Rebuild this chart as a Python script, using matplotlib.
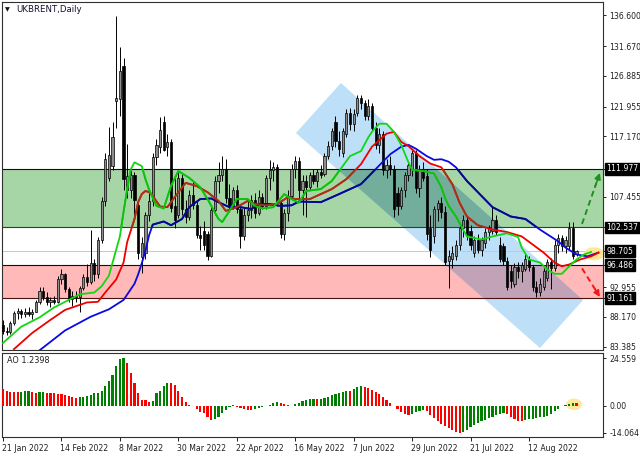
import matplotlib
matplotlib.use('Agg')
import matplotlib.pyplot as plt
import numpy as np
from matplotlib.patches import Rectangle, Polygon, Ellipse
import matplotlib.transforms as mtransforms

plt.rcParams['font.family'] = ['DejaVu Sans']

# ---------------- data ----------------
dates = ["21 Jan 2022", "14 Feb 2022", "8 Mar 2022", "30 Mar 2022", "22 Apr 2022",
         "16 May 2022", "7 Jun 2022", "29 Jun 2022", "21 Jul 2022", "12 Aug 2022"]
date_bars = [0, 16, 32, 48, 64, 80, 96, 112, 128, 144]

opens = [86.9, 85.9, 85.7, 87.2, 88.8, 89.2, 88.6, 89.0, 88.7, 89.0,
         90.6, 92.4, 91.4, 90.6, 90.9, 90.5, 94.3, 95.0, 92.6, 91.0,
         91.6, 91.3, 92.8, 94.6, 93.8, 96.8, 95.0, 100.5, 106.8, 110.5,
         112.4, 122.9, 123.2, 128.4, 108.5, 108.5, 111.0, 106.2, 97.8, 98.5,
         104.5, 106.8, 113.8, 115.5, 119.5, 115.5, 116.3, 106.0, 104.5, 110.5,
         105.5, 104.2, 107.8, 106.2, 101.3, 102.0, 101.5, 98.0, 105.3, 110.0,
         111.0, 112.0, 107.2, 106.0, 108.5, 105.5, 101.2, 104.5, 105.3, 107.0,
         104.8, 107.5, 106.0, 110.5, 111.8, 112.3, 106.5, 101.5, 104.8, 107.6,
         112.0, 113.2, 108.5, 110.0, 109.0, 111.0, 110.0, 111.5, 111.2, 114.0,
         115.6, 119.5, 116.5, 114.5, 117.6, 121.0, 119.2, 121.0, 123.3, 122.5,
         120.5, 122.0, 118.5, 115.8, 117.5, 111.8, 112.5, 112.0, 108.0, 106.0,
         108.5, 111.0, 112.0, 114.5, 108.8, 111.8, 110.8, 102.5, 101.1, 105.5,
         106.5, 105.0, 97.2, 97.5, 98.0, 99.8, 102.5, 103.8, 102.0, 98.5,
         100.5, 99.0, 100.0, 101.8, 102.0, 103.8, 99.8, 99.5, 97.2, 95.5,
         93.5, 96.2, 95.5, 95.8, 97.5, 96.2, 93.0, 92.2, 93.0, 94.5,
         97.0, 96.0, 99.8, 100.8, 99.5, 99.5, 102.5, 98.2]
highs = [87.6, 86.6, 87.5, 89.2, 89.6, 89.5, 89.6, 89.8, 89.4, 90.9,
         93.0, 92.9, 92.2, 91.3, 91.6, 94.8, 95.8, 95.3, 93.0, 92.3,
         92.3, 93.2, 95.0, 96.6, 102.2, 97.5, 101.0, 107.5, 114.5, 118.7,
         119.5, 136.5, 131.6, 129.8, 116.0, 111.8, 111.5, 107.0, 101.0, 105.0,
         108.0, 114.5, 116.8, 120.3, 120.5, 117.5, 116.8, 110.8, 111.5, 111.2,
         107.0, 108.5, 110.0, 106.8, 102.8, 103.5, 102.0, 105.8, 110.8, 113.0,
         114.0, 113.5, 109.5, 109.0, 109.3, 106.0, 105.8, 107.0, 107.8, 108.0,
         108.5, 108.0, 111.0, 113.4, 113.0, 112.8, 107.0, 105.5, 108.5, 112.8,
         114.0, 113.8, 111.0, 111.0, 111.5, 112.0, 112.0, 112.5, 114.5, 116.5,
         118.5, 120.5, 118.0, 118.5, 121.5, 121.8, 121.5, 123.8, 123.8, 123.0,
         123.2, 122.5, 119.5, 118.5, 118.0, 113.5, 114.0, 112.5, 109.0, 109.0,
         111.5, 113.0, 115.0, 115.0, 112.5, 113.0, 112.0, 104.5, 106.0, 107.0,
         107.5, 106.0, 99.0, 99.5, 100.5, 103.0, 104.5, 104.2, 103.0, 101.2,
         101.5, 101.0, 102.5, 103.0, 106.0, 104.5, 101.0, 100.0, 97.8, 96.5,
         96.8, 97.0, 97.0, 98.5, 98.0, 96.5, 94.0, 94.5, 96.0, 97.5,
         97.6, 100.5, 101.5, 101.3, 101.2, 103.4, 103.4, 99.0]
lows = [85.4, 85.2, 85.4, 86.8, 87.9, 88.0, 88.2, 88.3, 87.9, 88.9,
        90.3, 90.9, 90.1, 89.8, 90.2, 90.4, 93.5, 92.1, 90.6, 90.0,
        90.6, 89.0, 92.5, 93.2, 93.5, 93.9, 94.5, 100.0, 106.0, 110.0,
        111.8, 118.5, 120.5, 108.5, 107.2, 107.3, 104.0, 97.5, 95.3, 97.5,
        103.5, 106.0, 112.5, 114.5, 114.8, 114.0, 105.0, 102.5, 104.0, 104.5,
        103.2, 103.8, 105.5, 100.8, 98.9, 99.0, 97.3, 97.8, 104.5, 108.0,
        110.0, 106.5, 105.0, 105.5, 104.8, 99.3, 100.5, 103.5, 104.0, 104.0,
        104.5, 105.5, 105.5, 108.5, 110.0, 106.0, 100.8, 100.5, 103.5, 107.0,
        110.5, 107.0, 104.5, 104.3, 108.5, 109.5, 109.0, 110.5, 110.8, 113.5,
        115.0, 115.5, 114.0, 113.8, 117.0, 118.2, 118.0, 120.5, 121.5, 119.8,
        119.8, 118.0, 115.2, 114.5, 111.0, 110.5, 111.0, 104.3, 104.5, 105.5,
        107.5, 110.0, 110.8, 108.0, 107.5, 110.0, 100.5, 97.8, 100.0, 103.5,
        104.0, 96.5, 92.8, 96.0, 97.3, 99.0, 101.0, 100.5, 99.0, 97.8,
        98.5, 98.0, 99.3, 100.5, 101.5, 101.3, 97.0, 96.5, 92.5, 92.8,
        93.0, 94.5, 93.8, 95.5, 95.5, 92.3, 91.3, 91.5, 92.5, 94.0,
        92.6, 95.5, 98.5, 98.8, 98.5, 99.0, 97.5, 98.0]
closes = [85.9, 85.7, 87.2, 88.8, 89.2, 88.6, 89.0, 88.7, 89.0, 90.6,
          92.4, 91.4, 90.6, 90.9, 90.5, 94.3, 95.0, 92.6, 91.0, 91.6,
          91.3, 92.8, 94.6, 93.8, 96.8, 95.0, 100.5, 106.8, 113.5, 114.2,
          117.1, 123.3, 127.7, 110.3, 110.8, 111.0, 107.0, 98.5, 100.0, 104.5,
          106.8, 113.8, 115.8, 118.2, 115.0, 116.3, 105.7, 103.8, 110.5, 105.5,
          104.2, 107.8, 106.2, 101.3, 100.8, 99.8, 97.9, 105.3, 110.0, 111.0,
          112.0, 107.2, 106.0, 108.5, 105.5, 101.2, 104.5, 105.3, 107.0, 104.8,
          107.5, 106.0, 110.5, 111.8, 112.3, 106.5, 101.5, 104.8, 107.6, 112.0,
          113.2, 108.5, 110.0, 109.0, 111.0, 110.0, 111.5, 111.0, 114.0, 115.6,
          118.0, 116.5, 115.2, 118.0, 121.0, 119.2, 120.8, 123.3, 122.5, 120.5,
          122.0, 118.5, 115.8, 117.5, 111.8, 112.5, 112.0, 105.5, 106.0, 108.5,
          111.0, 112.5, 114.5, 108.8, 111.8, 110.5, 101.5, 99.0, 105.5, 106.5,
          105.0, 97.0, 98.0, 98.5, 99.8, 102.5, 103.8, 101.3, 99.8, 100.5,
          99.0, 100.5, 101.8, 102.5, 103.8, 101.8, 97.5, 97.2, 93.0, 94.0,
          96.2, 95.5, 96.5, 97.5, 96.2, 93.0, 92.2, 93.5, 95.5, 97.0,
          96.0, 99.8, 100.8, 99.5, 100.6, 102.5, 98.0, 98.705]

# Alligator lines (bar index, value)
jaw_x = [10, 17, 24, 29, 33, 36, 37, 38, 39, 40, 41, 44, 46, 49, 51, 54, 57, 59, 62, 65,
         68, 70, 73, 76, 79, 81, 87, 92, 98, 102, 106, 109, 111, 113, 116, 118, 120, 122,
         124, 127, 131, 134, 139, 143, 147, 152, 154, 157, 160, 163]
jaw_y = [82.8, 86.0, 88.2, 89.4, 90.9, 93.5, 95.0, 96.8, 98.8, 101.3, 103.0, 103.5, 102.9,
         103.9, 105.8, 107.1, 107.2, 106.6, 105.8, 105.8, 105.5, 106.3, 106.3, 106.0, 106.1,
         106.7, 106.6, 107.9, 109.5, 111.9, 114.3, 115.5, 115.8, 115.2, 114.0, 113.4, 113.5,
         113.1, 112.2, 110.0, 107.6, 105.8, 104.3, 103.9, 102.2, 100.3, 99.3, 98.2, 97.9, 98.5]
teeth_x = [3, 8, 13, 17, 23, 26, 28, 31, 33, 34, 36, 37, 38, 39, 40, 41, 43, 45, 47, 50,
           53, 56, 59, 61, 64, 67, 69, 72, 75, 78, 80, 84, 90, 94, 98, 101, 105, 107, 109,
           111, 114, 117, 120, 123, 125, 127, 130, 134, 138, 142, 145, 148, 151, 153, 155,
           158, 161, 163]
teeth_y = [83.0, 85.6, 87.7, 89.3, 90.5, 90.6, 92.1, 94.2, 96.9, 100.2, 103.9, 106.6, 107.9,
           108.4, 108.2, 107.6, 105.9, 105.8, 107.4, 109.7, 109.2, 108.2, 106.8, 105.2, 105.8,
           106.8, 106.3, 106.1, 106.3, 107.4, 107.1, 107.1, 108.7, 110.3, 112.7, 115.5, 117.6,
           117.9, 116.3, 115.6, 114.0, 112.8, 112.2, 109.5, 106.5, 104.3, 102.9, 102.2, 101.8,
           101.1, 99.8, 98.5, 96.9, 96.3, 96.6, 97.4, 97.9, 98.5]
lips_x = [0, 5, 10, 14, 17, 21, 25, 27, 29, 30, 32, 33, 34, 35, 36, 38, 39, 40, 42, 44,
          46, 48, 51, 54, 56, 59, 60, 62, 64, 67, 69, 71, 74, 77, 79, 81, 83, 87, 90, 93,
          95, 98, 100, 101, 103, 105, 107, 109, 111, 112, 115, 118, 120, 121, 122, 124, 127,
          131, 134, 138, 141, 142, 144, 147, 149, 151, 153, 155, 157, 159, 161]
lips_y = [84.0, 86.6, 88.1, 89.7, 90.6, 91.8, 92.1, 93.1, 94.8, 96.9, 101.1, 105.0, 108.7,
          111.9, 113.0, 112.4, 110.3, 108.6, 106.0, 105.6, 109.2, 111.6, 110.5, 109.0, 107.1,
          103.9, 103.4, 105.2, 107.1, 107.1, 106.0, 105.6, 105.8, 107.9, 107.1, 106.5, 108.4,
          108.7, 110.0, 112.4, 114.0, 114.8, 117.0, 117.9, 119.2, 119.2, 117.9, 115.8, 113.0,
          111.8, 111.6, 111.2, 109.0, 107.3, 106.0, 104.3, 101.1, 100.6, 101.1, 101.6, 101.0,
          99.3, 97.4, 96.9, 95.8, 95.1, 95.1, 96.3, 97.4, 98.2, 98.6]

# Awesome Oscillator values per bar
ao = [8.4, 7.7, 7.2, 7.0, 6.9, 7.2, 7.4, 7.5, 6.9, 6.7,
      6.9, 7.0, 6.7, 6.6, 6.4, 6.2, 5.9, 5.5, 5.0, 4.6,
      4.1, 4.2, 4.5, 4.9, 5.6, 6.3, 6.7, 7.7, 10.1, 12.7,
      15.8, 20.5, 24.0, 24.559, 22.2, 16.7, 11.5, 6.3, 2.9, 2.6,
      2.0, 2.3, 6.3, 7.7, 10.1, 11.9, 11.5, 10.6, 7.7, 4.6,
      1.6, 0.3, -0.3, -2.0, -3.2, -4.1, -5.8, -7.5, -7.2, -5.8,
      -4.1, -2.5, -1.0, 0.2, -0.6, -1.2, -1.8, -2.2, -2.4, -2.0,
      -1.5, -1.0, -0.4, 0.5, 1.1, 1.6, 1.2, 0.7, 0.2, -0.3,
      0.6, 1.5, 2.3, 2.9, 3.2, 3.4, 3.2, 3.4, 3.9, 4.6,
      5.2, 5.8, 6.4, 7.0, 7.6, 7.4, 8.6, 9.4, 10.1, 9.7,
      9.0, 8.2, 7.2, 5.9, 4.4, 2.9, 1.3, -0.3, -1.9, -3.2,
      -4.2, -4.9, -4.2, -3.6, -3.0, -2.5, -3.0, -4.8, -6.5, -8.0,
      -9.5, -10.8, -11.8, -12.8, -13.6, -14.064, -13.5, -12.5, -11.3, -10.2,
      -9.2, -8.3, -7.4, -6.5, -5.8, -5.1, -4.5, -4.0, -4.6, -5.8,
      -6.9, -7.8, -8.2, -7.6, -7.1, -6.8, -6.5, -6.2, -5.9, -5.4,
      -4.4, -3.0, -1.6, -0.5, 0.2, 0.6, 1.4, 1.2398]

# chart levels / drawings (bar index, price)
green_zone = (102.537, 111.977)
red_zone = (91.161, 96.486)
last_price = 98.705
channel_x = [80.2, 92.5, 158.8, 147.0]
channel_y = [117.71, 125.74, 90.89, 83.18]
up_arrow = ((158.5, 103.1), (163.4, 111.3))
down_arrow = ((158.5, 95.98), (163.4, 91.38))

price_ticks = [136.600, 131.670, 126.885, 121.955, 117.170, 107.455, 92.955, 88.170, 83.385]
marked_levels = [111.977, 102.537, 98.705, 96.486, 91.161]
ao_ticks = [24.559, 0.0, -14.064]
ao_tick_labels = ["24.559", "0.00", "-14.064"]

# ---------------- figure ----------------
W, H = 640, 457
fig = plt.figure(figsize=(W / 100, H / 100), dpi=100)
fig.patch.set_facecolor('white')


def frac(x0, y0, x1, y1):
    return [x0 / W, 1 - y1 / H, (x1 - x0) / W, (y1 - y0) / H]


ax = fig.add_axes(frac(2, 2, 603, 350))
ax2 = fig.add_axes(frac(2, 352.5, 603, 437.3))

XMIN, XMAX = -0.27, 164.25
ax.set_xlim(XMIN, XMAX)
ax.set_ylim(82.86, 138.75)
ax2.set_xlim(XMIN, XMAX)
ax2.set_ylim(-16.5, 27.5)

FS = 5.6
for a in (ax, ax2):
    for s in a.spines.values():
        s.set_color('#303030')
        s.set_linewidth(0.8)

# zones
gz = Rectangle((XMIN - 5, green_zone[0]), 200, green_zone[1] - green_zone[0],
               facecolor='#a6d6a6', edgecolor='none', zorder=1)
rz = Rectangle((XMIN - 5, red_zone[0]), 200, red_zone[1] - red_zone[0],
               facecolor='#ffb9b9', edgecolor='none', zorder=1)
ax.add_patch(gz)
ax.add_patch(rz)

# channel with multiply-like overlaps
verts = list(zip(channel_x, channel_y))
ax.add_patch(Polygon(verts, closed=True, facecolor='#bde0f8', edgecolor='none', zorder=2))
pg = Polygon(verts, closed=True, facecolor='#73ae9d', edgecolor='none', zorder=2.1)
ax.add_patch(pg)
pg.set_clip_path(gz)
pr = Polygon(verts, closed=True, facecolor='#c2a2b6', edgecolor='none', zorder=2.1)
ax.add_patch(pr)
pr.set_clip_path(rz)

# level lines
ax.axhline(green_zone[1], color='#101010', lw=0.8, zorder=2.5)
ax.axhline(green_zone[0], color='#1d4a1d', lw=0.8, zorder=2.5)
ax.axhline(red_zone[1], color='#101010', lw=0.8, zorder=2.5)
ax.axhline(red_zone[0], color='#4a0f0f', lw=0.8, zorder=2.5)
ax.axhline(last_price, color='#c8c8c8', lw=0.7, zorder=2.4)

# candles
o = np.array(opens); h = np.array(highs); l = np.array(lows); c = np.array(closes)
idx = np.arange(len(c))
ax.vlines(idx, l, h, color='black', lw=0.7, zorder=3)
bull = c >= o
bottoms = np.minimum(o, c)
heights = np.maximum(np.abs(c - o), 0.15)
ax.bar(idx[bull], heights[bull], bottom=bottoms[bull], width=0.6,
       color='#8e8e8e', edgecolor='black', linewidth=0.5, zorder=3.2)
ax.bar(idx[~bull], heights[~bull], bottom=bottoms[~bull], width=0.6,
       color='black', edgecolor='black', linewidth=0.5, zorder=3.2)

# highlight ellipse
ax.add_patch(Ellipse((161.8, 98.3), 5.6, 2.1, facecolor='#fde68a', edgecolor='none',
                     alpha=0.9, zorder=3.5))

# Alligator
lines = [(jaw_x, jaw_y, '#0a0ae0', '#08088c'),
         (teeth_x, teeth_y, '#f00000', '#a5331a'),
         (lips_x, lips_y, '#10d810', '#0fc00f')]
for xs, ys, col, dcol in lines:
    ax.plot(xs, ys, color=col, lw=1.3, zorder=4, solid_joinstyle='round')
    ln, = ax.plot(xs, ys, color=dcol, lw=1.3, zorder=4.1, solid_joinstyle='round')
    ln.set_clip_path(gz)

# arrows
for (p0, p1), col in ((up_arrow, '#1f8f1f'), (down_arrow, '#f01818')):
    dx, dy = p1[0] - p0[0], p1[1] - p0[1]
    ax.plot([p0[0], p0[0] + dx * 0.8], [p0[1], p0[1] + dy * 0.8], color=col, lw=1.4,
            ls=(0, (3, 2)), zorder=5)
    ax.annotate('', xy=p1, xytext=(p0[0] + dx * 0.72, p0[1] + dy * 0.72),
                arrowprops=dict(arrowstyle='-|>', color=col, lw=1.2, mutation_scale=9,
                                shrinkA=0, shrinkB=0), zorder=5, annotation_clip=False)

# axes ticks main
ax.yaxis.tick_right()
ax.set_yticks(price_ticks + marked_levels)
ax.set_yticklabels(['%.3f' % v for v in price_ticks] + [''] * len(marked_levels))
ax.tick_params(axis='y', direction='out', length=2.5, width=0.7, pad=2, labelsize=FS,
               colors='#202020')
ax.set_xticks([])
trans = mtransforms.blended_transform_factory(ax.transAxes, ax.transData)
for v in marked_levels:
    ax.text(1.006, v, '%.3f' % v, transform=trans, fontsize=FS, color='white',
            va='center', ha='left', zorder=10, clip_on=False,
            bbox=dict(boxstyle='square,pad=0.18', fc='black', ec='black'))

# AO
aov = np.array(ao)
up = np.concatenate([[False], np.diff(aov) > 0])
aidx = np.arange(len(aov))
ax2.bar(aidx[up], aov[up], width=0.6, color='#008000', zorder=3)
ax2.bar(aidx[~up], aov[~up], width=0.6, color='#ff0000', zorder=3)
ax2.add_patch(Ellipse((156.3, 0.6), 4.3, 6.0, facecolor='#fde68a', edgecolor='none',
                      alpha=0.85, zorder=2))
ax2.yaxis.tick_right()
ax2.set_yticks(ao_ticks)
ax2.set_yticklabels(ao_tick_labels)
ax2.tick_params(axis='y', direction='out', length=2.5, width=0.7, pad=2, labelsize=FS,
                colors='#202020')
ax2.set_xticks(date_bars)
ax2.set_xticklabels(dates, ha='left')
ax2.tick_params(axis='x', direction='out', length=3, width=0.7, pad=2, labelsize=FS,
                colors='#202020')
for t in ax2.get_xticklabels():
    t.set_x(t.get_position()[0])
offset = mtransforms.ScaledTranslation(-1 / 100, 0, fig.dpi_scale_trans)
for t in ax2.get_xticklabels():
    t.set_transform(t.get_transform() + offset)
ax2.text(0.009, 0.9, 'AO 1.2398', transform=ax2.transAxes, fontsize=FS + 0.3,
         color='#202020', va='center', ha='left')

# title
fig.text(5 / W, 1 - 9.5 / H, '\u25BC', fontsize=4.5, color='#101010', va='center', ha='left')
fig.text(16 / W, 1 - 9.5 / H, 'UKBRENT,Daily', fontsize=6.2, color='#101030',
         va='center', ha='left')

fig.savefig('out.png', dpi=100, facecolor='white')
